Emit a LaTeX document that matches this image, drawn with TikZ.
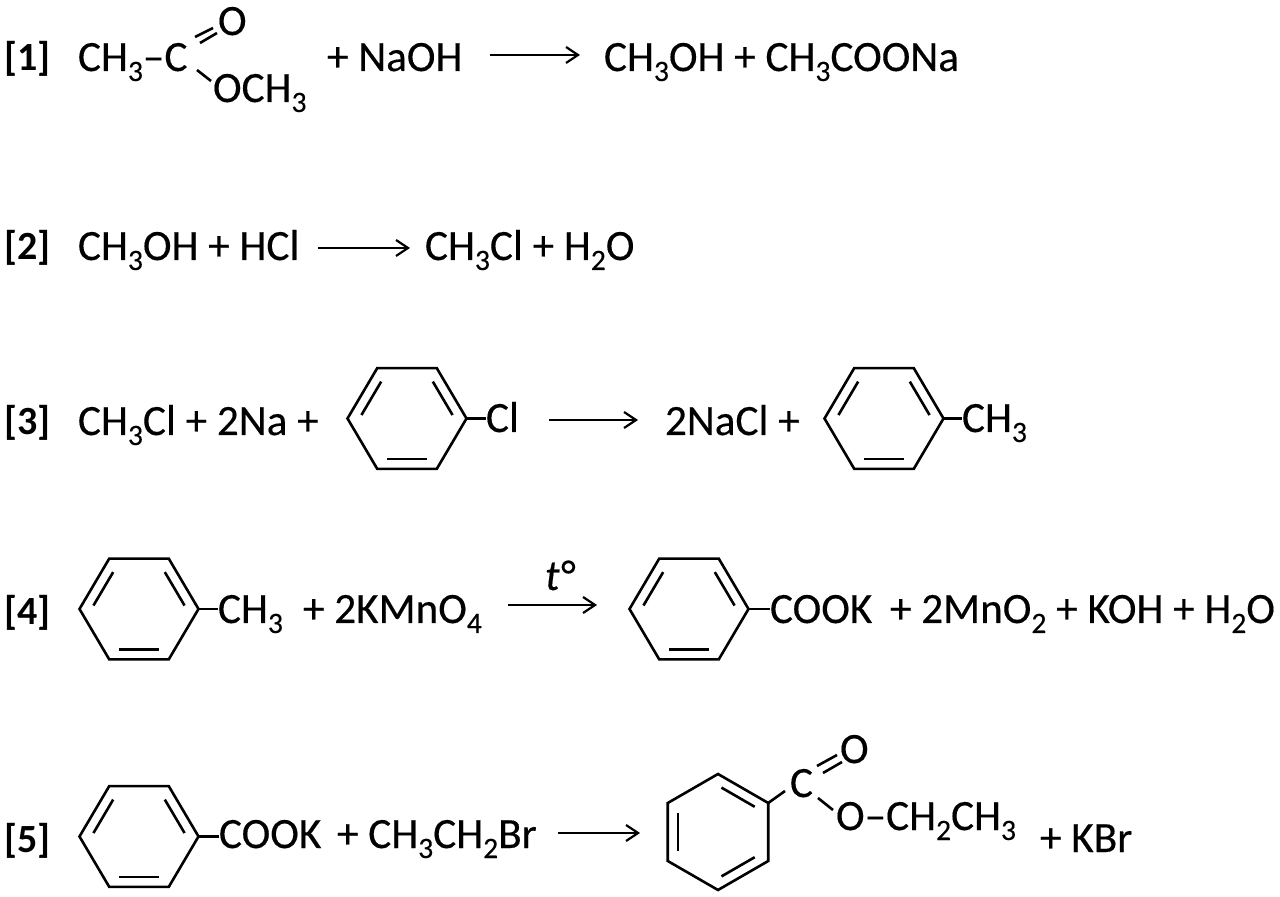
\documentclass[tikz,border=0pt]{standalone}
\usepackage{fontspec}
\setmainfont{Carlito}[UprightFeatures={FakeBold=0.3}, ItalicFeatures={FakeBold=0.3}]
\usetikzlibrary{positioning, arrows.meta, calc}
\newcommand{\lowr}[1]{\raisebox{-5pt}{\fontsize{14.8}{14.8}\selectfont #1}}
\tikzset{
    chem/.style={anchor=base west, inner sep=0, outer sep=0, font=\fontsize{21.6}{21.6}\selectfont},
    numlabel/.style={chem, font=\fontsize{20}{20}\selectfont\bfseries},
    bond/.style={line width=1.3pt, black},
    reactarrow/.style={line width=1.1pt, black, -{Straight Barb[length=6pt, width=8pt, line width=1.1pt]}},
}
% ring with flat top, vertices #1v0 ... #1v5 counted from the right
\newcommand{\ringflat}[3]{%
    \coordinate (#1c) at (#2,#3);
    \foreach \i in {0,...,5}
    {
        \coordinate (#1v\i) at ($(#2,#3)+({60*\i}:59.5 and 58.2)$);
    }
    \draw[bond, line join=miter] (#1v0) -- (#1v1) -- (#1v2) -- (#1v3) -- (#1v4) -- (#1v5) -- cycle;
    % inner lines
    \foreach \a/\b in {5/0, 3/4, 1/2}
    {
        \draw[bond, shorten >=2pt, shorten <=2pt] ($(#1c)!0.8!(#1v\a)$) -- ($(#1c)!0.8!(#1v\b)$);
    }
}
\begin{document}
\begin{tikzpicture}[x=0.5pt, y=-0.5pt]
    \useasboundingbox (0,0) rectangle (1280,897);

    % row 1
    \node[numlabel] (n1) at (4,71) {[1]};
    \node[chem] (ac1) at (78,71) {CH\lowr{3}–C};
    \node[chem] (ao1) at (218,35) {O};
    \node[chem] (ao2) at (213,102) {OCH\lowr{3}};
    \node[chem] (naoh) at (327,71) {+ NaOH};
    \node[chem] (prod1) at (604,71) {CH\lowr{3}OH + CH\lowr{3}COONa};
    \coordinate (d1a) at (195,37);
    \coordinate (d1b) at (213,28);
    \coordinate (d1c) at (200,43);
    \coordinate (d1d) at (217,33);
    \coordinate (s1a) at (197,70);
    \coordinate (s1b) at (211,81);
    \coordinate (r1a) at (490,55);
    \coordinate (r1b) at (580,55);
    \draw[bond] (d1a) -- (d1b);
    \draw[bond] (d1c) -- (d1d);
    \draw[bond] (s1a) -- (s1b);
    \draw[reactarrow] (r1a) -- (r1b);

    % row 2
    \node[numlabel] (n2) at (4,260) {[2]};
    \node[chem] (eq2a) at (78,260) {CH\lowr{3}OH + HCl};
    \node[chem] (eq2b) at (425,260) {CH\lowr{3}Cl + H\lowr{2}O};
    \coordinate (r2a) at (318,248);
    \coordinate (r2b) at (410,248);
    \draw[reactarrow] (r2a) -- (r2b);

    % row 3
    \node[numlabel] (n3) at (4,435) {[3]};
    \node[chem] (eq3a) at (78,435) {CH\lowr{3}Cl + 2Na +};
    \ringflat{ra}{407}{418.5}
    \node[chem] (cl) at (486,432) {Cl};
    \draw[bond] (rav0) -- (rav0 -| cl.west);
    \coordinate (r3a) at (549,420);
    \coordinate (r3b) at (638,420);
    \draw[reactarrow] (r3a) -- (r3b);
    \node[chem] (eq3b) at (665,435) {2NaCl +};
    \ringflat{rb}{884}{418.5}
    \node[chem] (me3) at (962,432) {CH\lowr{3}};
    \draw[bond] (rbv0) -- (rbv0 -| me3.west);

    % row 4
    \node[numlabel] (n4) at (4,625) {[4]};
    \ringflat{rc}{139}{609}
    \node[chem] (me4) at (218,623) {CH\lowr{3}};
    \draw[bond] (rcv0) -- (rcv0 -| me4.west);
    \node[chem] (kmn) at (303,623) {+ 2KMnO\lowr{4}};
    \node[chem] (temp) at (545,590) {\itshape t°};
    \coordinate (r4a) at (508,605);
    \coordinate (r4b) at (597,605);
    \draw[reactarrow] (r4a) -- (r4b);
    \ringflat{rd}{689}{609}
    \node[chem] (cook4) at (770,623) {COOK};
    \draw[bond] (rdv0) -- (rdv0 -| cook4.west);
    \node[chem] (eq4b) at (890,623) {+ 2MnO\lowr{2} + KOH + H\lowr{2}O};

    % row 5
    \node[numlabel] (n5) at (4,852) {[5]};
    \ringflat{re}{139}{836.5}
    \node[chem] (cook5) at (219,848) {COOK};
    \draw[bond] (rev0) -- (rev0 -| cook5.west);
    \node[chem] (etbr) at (337,848) {+ CH\lowr{3}CH\lowr{2}Br};
    \coordinate (r5a) at (558,833);
    \coordinate (r5b) at (640,833);
    \draw[reactarrow] (r5a) -- (r5b);

    % upright ring of the ester
    \coordinate (rfc) at (718,832);
    \foreach \i in {0,...,5}
    {
        \coordinate (rfv\i) at ($(rfc)+({30+60*\i}:58 and -58)$);
    }
    \draw[bond] (rfv0) -- (rfv1) -- (rfv2) -- (rfv3) -- (rfv4) -- (rfv5) -- cycle;
    \foreach \a/\b in {0/1, 2/3, 4/5}
    {
        \draw[bond, shorten >=2pt, shorten <=2pt] ($(rfc)!0.8!(rfv\a)$) -- ($(rfc)!0.8!(rfv\b)$);
    }
    \node[chem] (ec) at (790,797) {C};
    \node[chem] (eo) at (840,763) {O};
    \node[chem] (eo2) at (836,830) {O–CH\lowr{2}CH\lowr{3}};
    \node[chem] (kbr) at (1040,852) {+ KBr};
    \coordinate (d5a) at (817,766);
    \coordinate (d5b) at (837,755);
    \coordinate (d5c) at (823,773);
    \coordinate (d5d) at (842,762);
    \coordinate (s5a) at (818,798);
    \coordinate (s5b) at (833,810);
    \coordinate (s5c) at (785,791);
    \draw[bond] (rfv0) -- (s5c);
    \draw[bond] (d5a) -- (d5b);
    \draw[bond] (d5c) -- (d5d);
    \draw[bond] (s5a) -- (s5b);
\end{tikzpicture}
\end{document}
